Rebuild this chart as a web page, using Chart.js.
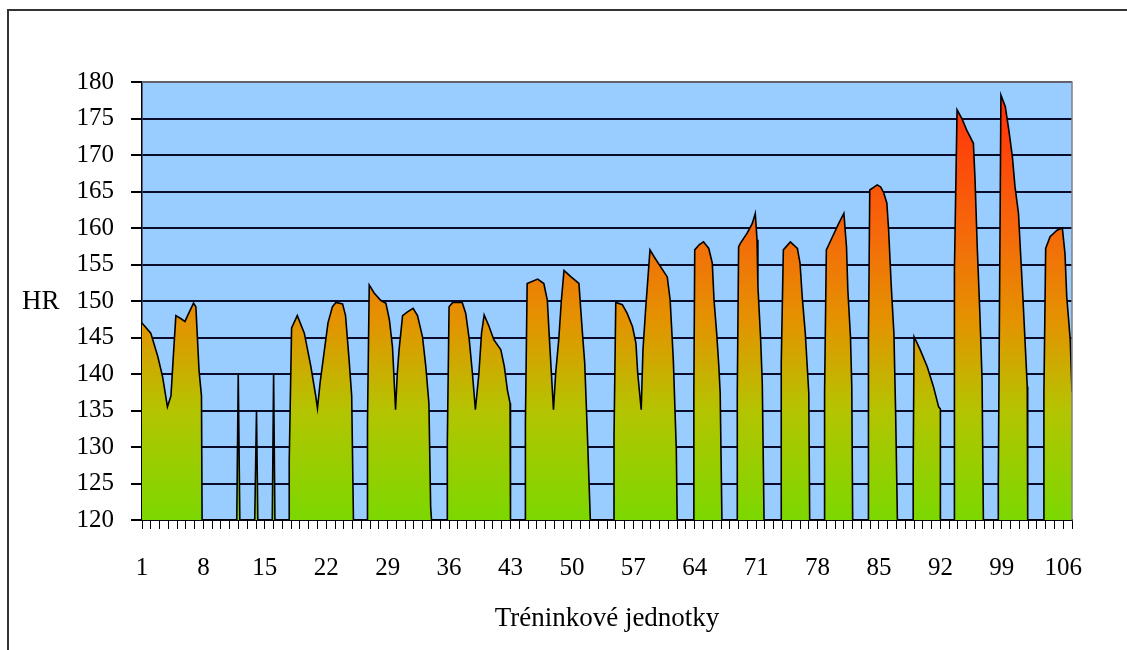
<!DOCTYPE html>
<html>
<head>
<meta charset="utf-8">
<script src="https://cdn.jsdelivr.net/npm/chart.js@4/dist/chart.umd.min.js"></script>
<style>
  body { margin:0; background:#fff; }
  canvas { display:block; }
</style>
</head>
<body>
<canvas id="hrChart" width="1127" height="650"></canvas>
<script>

/* DATA (x = training unit, y = heart rate) */

const unitPos = [
  1,2,2.8,3.35,3.9,4.3,4.6,4.86,5.4,5.9,6.2,6.87,7.14,7.5,7.78,7.85,
  11.8,11.97,12.15,13.85,14.05,14.2,15.85,16,16.15,
  17.78,17.78,18.05,18.7,19.5,20.25,20.8,21,21.3,21.76,22.2,22.7,23.1,23.86,24.2,24.6,24.9,25.1,
  26.7,26.7,26.9,27.46,28.2,28.8,29.2,29.55,29.7,29.9,30.1,30.3,30.7,31.26,31.9,32.4,32.97,33.35,33.7,33.9,34,
  35.8,35.8,36,36.4,37.5,37.9,38.3,38.66,39,39.4,39.7,40,40.56,41.1,41.9,42.3,42.65,42.95,43,
  44.7,44.7,44.9,46.1,46.8,47.2,47.4,47.66,47.9,48.15,48.5,48.8,49.1,49.9,50.8,51.2,51.46,51.76,52.1,
  54.8,54.8,55,55.75,56.3,56.9,57.3,57.5,57.9,58.1,58.4,58.9,59.35,60.1,60.87,61.2,61.56,61.9,62,
  63.9,63.9,64,64.5,65,65.6,66,66.2,66.5,66.75,66.9,67.1,
  68.85,68.85,69,69.2,69.97,70.55,70.9,71.1,71.2,71.5,71.7,71.9,
  73.86,73.86,74.1,74.9,75.7,76,76.25,76.6,77,77.1,
  78.8,78.8,79,79.7,80.4,81,81.3,81.45,81.75,81.9,82,
  83.8,83.8,83.95,84.8,85.2,85.55,85.9,86.1,86.4,86.7,86.9,87.1,
  88.9,88.9,89,89.7,90.5,91.2,91.8,92,92,
  93.6,93.6,93.9,94.45,95,95.76,95.95,96.2,96.5,96.75,96.9,
  98.6,98.6,98.9,99.4,99.8,100.2,100.5,100.9,101.1,101.4,101.9,101.95,
  103.8,103.8,104,104.5,105.3,105.9,106.2,106.4,106.8,107
];

const hrValues = [
  147,145.6,142.4,139.6,135.5,137,143,148,147.6,147.2,148,149.7,149.2,140.5,137,120,
  120,140,120,120,135,120,120,140,120,
  120,128,146.3,148,145.6,141,137,135.3,138.8,143,147,149.2,149.8,149.6,148,142,137,120,
  120,133.3,152.2,151.1,150.1,149.7,147.4,143.7,140.1,135.1,140.1,143.3,148,148.5,149,148,145.1,141,136,121.8,120,
  120,130.5,149.2,149.8,149.8,148.3,144.7,140.1,135.1,140.1,145.6,148.1,146.5,144.7,143.3,141,137.8,136,120,
  120,133.3,152.4,153,152.4,150.1,145.6,140.1,135.1,140.1,144.7,150.1,154.2,153.3,152.4,145.6,141.5,131.9,120,
  120,131.4,149.8,149.5,148.3,146.5,144.2,140.1,135.1,143.3,148.8,157,156.1,154.7,153.3,150.1,141.9,129.6,120,
  120,137.4,157,157.7,158.1,157.2,155.2,150.1,145.6,141,137.4,120,
  120,137.4,157.4,157.9,159.3,160.6,162,158.4,152,145.1,138.7,120,
  120,141.5,157,158.1,157.2,155.2,150.6,145.6,137.4,120,
  120,137.4,157,158.8,160.6,162,157.4,151.5,145.1,138.3,120,
  120,144.7,165.2,165.9,165.6,164.8,163.4,159.7,152,145.6,134.6,120,
  120,127.3,145.1,143.3,141,138.3,135.5,135.2,120,
  120,154.2,176.2,175,173.4,171.6,166.6,157.4,148.3,139.2,120,
  120,125,178.2,176.6,173.4,169.8,165.7,162,157.4,150.6,138.3,120,
  120,137.4,157.2,158.8,159.7,160,156.5,150.6,144.7,137.5
];

const xTickLabels = [1,8,15,22,29,36,43,50,57,64,71,78,85,92,99,106];

const yTitle = "HR";
const xTitle = "Tréninkové jednotky";

const FONT = "'Liberation Serif', 'Times New Roman', serif";

/* PLUGINS */

const framePlugin = {
  id:"frame",
  beforeDraw(chart){
    const {ctx, chartArea:a} = chart;
    ctx.save();
    ctx.fillStyle = "#99ccff";
    ctx.fillRect(a.left, a.top, a.right-a.left, a.bottom-a.top);
    ctx.strokeStyle = "#333";
    ctx.lineWidth = 2;
    ctx.strokeRect(8, 10, 1300, 800);
    ctx.restore();
  },
  afterDraw(chart){
    const {ctx, chartArea:a} = chart;
    ctx.save();
    ctx.strokeStyle = "#808080";
    ctx.lineWidth = 1.5;
    ctx.beginPath();
    ctx.moveTo(a.left, a.top);
    ctx.lineTo(a.right, a.top);
    ctx.lineTo(a.right, a.bottom);
    ctx.stroke();
    ctx.fillStyle = "#000";
    ctx.font = "27px " + FONT;
    ctx.textAlign = "left";
    ctx.textBaseline = "alphabetic";
    const y = chart.scales.y.getPixelForValue(150);
    ctx.fillText(yTitle, 22, y + 8);
    ctx.restore();
  }
};

/* CHART */

new Chart(document.getElementById("hrChart"), {
  type:"line",
  data:{
    datasets:[{
      data: unitPos.map((x,i) => ({x, y: hrValues[i]})),
      borderColor:"#000",
      borderWidth:1.6,
      pointRadius:0,
      tension:0,
      fill:"start",
      backgroundColor: ctx => {
        const area = ctx.chart.chartArea;
        if(!area) return "#d0a000";
        const g = ctx.chart.ctx.createLinearGradient(0, area.bottom, 0, area.top);
        g.addColorStop(0, "#7cd800");
        g.addColorStop(0.25, "#b4c400");
        g.addColorStop(0.45, "#e39400");
        g.addColorStop(0.65, "#f56a0a");
        g.addColorStop(0.9, "#ff3c0a");
        g.addColorStop(1, "#ff2a0a");
        return g;
      }
    }]
  },
  options:{
    responsive:false,
    animation:false,
    devicePixelRatio:1,
    layout:{ padding:{ top:82, right:55, left:0, bottom:0 } },
    plugins:{ legend:{display:false}, tooltip:{enabled:false} },
    scales:{
      x:{
        type:"linear",
        min:1,
        max:107,
        afterFit: s => { s.height = 130; },
        grid:{ drawOnChartArea:false, drawTicks:true, tickLength:9, tickColor:"#000", lineWidth:1 },
        border:{ color:"#000", width:1.5 },
        ticks:{
          stepSize:1,
          autoSkip:false,
          maxRotation:0,
          padding:24,
          color:"#000",
          font:{ family:FONT, size:25 },
          callback: v => xTickLabels.includes(v) ? String(v) : ""
        },
        title:{
          display:true,
          text:xTitle,
          color:"#000",
          font:{ family:FONT, size:27 },
          padding:{ top:0, bottom:15 }
        }
      },
      y:{
        min:120,
        max:180,
        afterFit: s => { s.width = 142; },
        grid:{ color:"#0a0a2a", lineWidth:2, tickLength:11, tickColor:"#000" },
        border:{ color:"#000", width:1.5 },
        ticks:{
          stepSize:5,
          padding:17,
          color:"#000",
          font:{ family:FONT, size:25 }
        }
      }
    }
  },
  plugins:[framePlugin]
});

</script>
</body>
</html>
